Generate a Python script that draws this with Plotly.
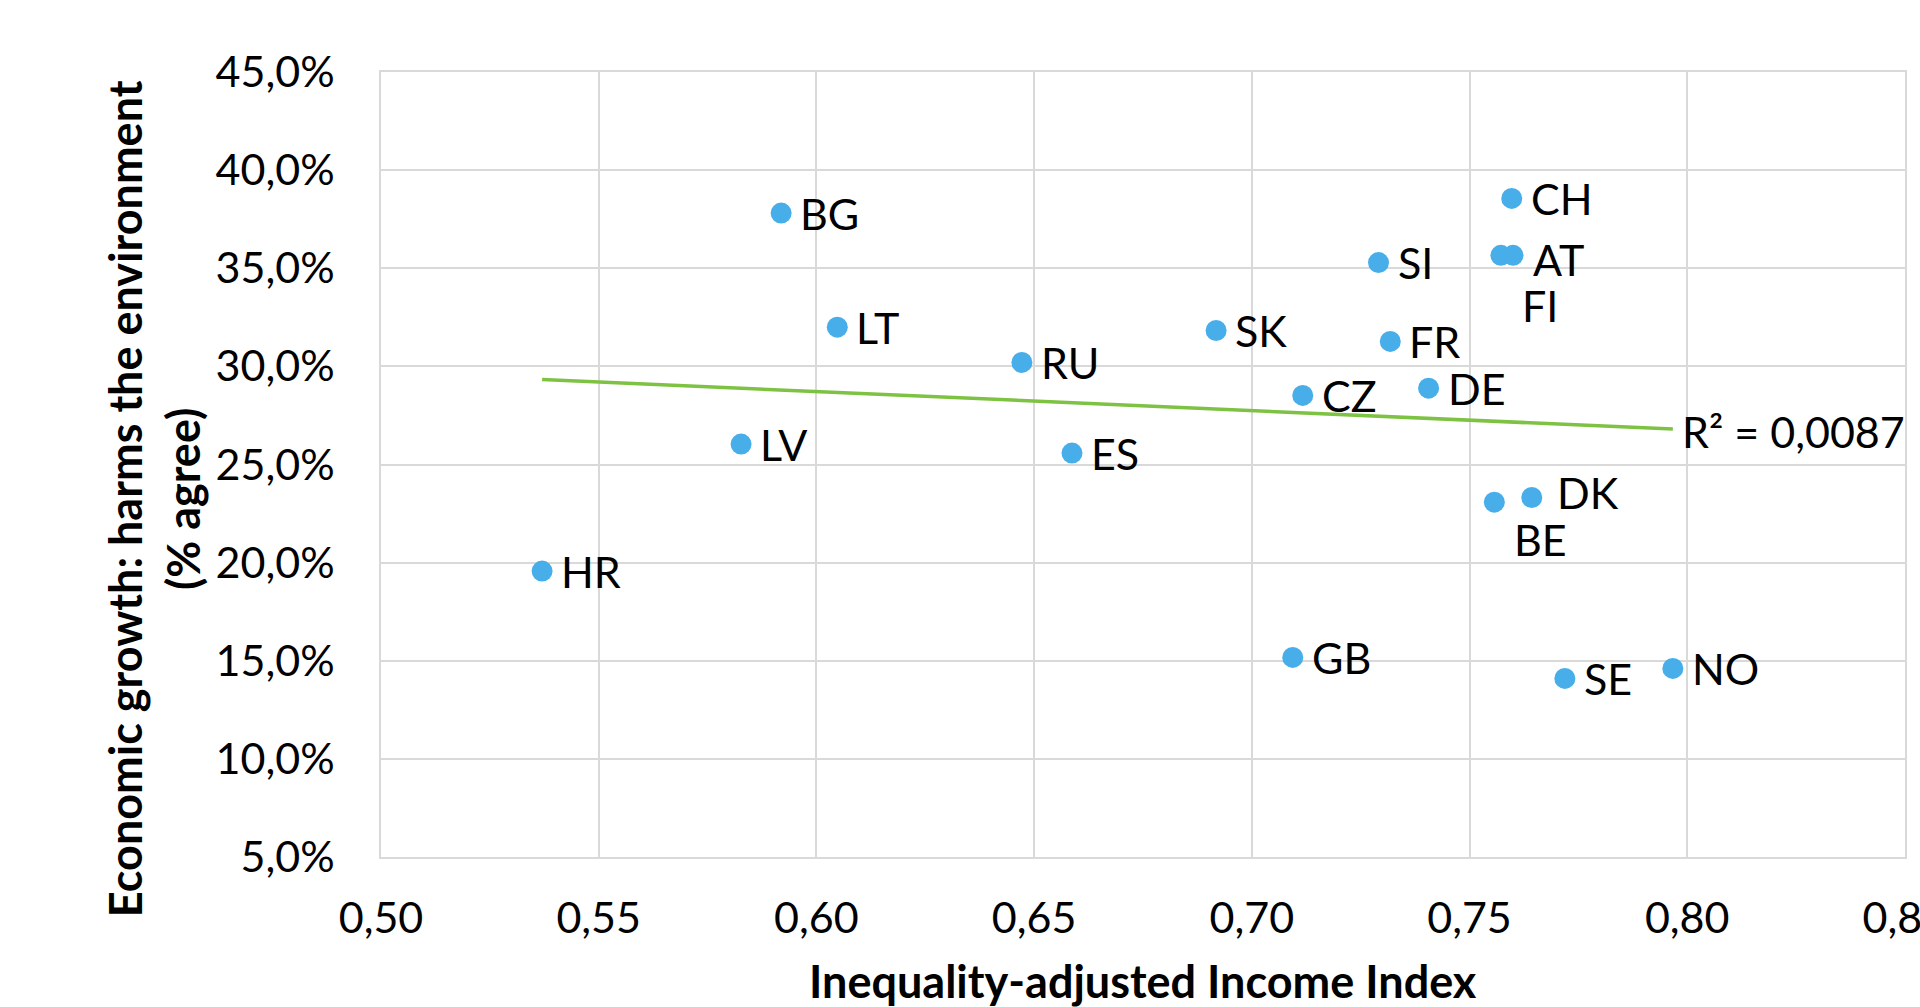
import numpy as np
import plotly.graph_objects as go

# ---- data ----
countries = ["HR", "LV", "BG", "LT", "RU", "ES", "SK", "GB", "CZ", "SI",
             "FR", "DE", "BE", "FI", "AT", "CH", "DK", "SE", "NO"]
income_index = [0.5370, 0.5827, 0.5919, 0.6048, 0.6472, 0.6587, 0.6918, 0.7094, 0.7117, 0.7291,
                0.7318, 0.7406, 0.7557, 0.7572, 0.7600, 0.7597, 0.7643, 0.7719, 0.7967]
harms_env_pct = [19.57, 26.04, 37.81, 32.00, 30.20, 25.58, 31.83, 15.17, 28.52, 35.29,
                 31.27, 28.89, 23.08, 35.66, 35.66, 38.56, 23.32, 14.10, 14.61]
r2_text = "R² = 0,0087"
y_ticks = [5, 10, 15, 20, 25, 30, 35, 40, 45]
y_tick_labels = ["5,0%", "10,0%", "15,0%", "20,0%", "25,0%", "30,0%", "35,0%", "40,0%", "45,0%"]
x_ticks = [0.50, 0.55, 0.60, 0.65, 0.70, 0.75, 0.80, 0.85]
x_tick_labels = ["0,50", "0,55", "0,60", "0,65", "0,70", "0,75", "0,80", "0,85"]

# ---- styling ----
FONT = "Lato, 'Open Sans', sans-serif"
FS = 43
FS_TITLE = 45
DOT = "#47AEEA"
TREND = "#7DC242"
GRID = "#D9D9D9"

# label offsets (pixels) for labels not placed to the right of their point
label_shift = {"FI": (19, -50), "BE": (18, -37), "AT": (18, -4), "DK": (23, 5)}
default_shift = (17, 0)

# linear trend line
xs = np.array(income_index)
ys = np.array(harms_env_pct)
slope, intercept = np.polyfit(xs, ys, 1)
tx = np.array([xs.min(), xs.max()])
ty = slope * tx + intercept

fig = go.Figure()
fig.add_trace(go.Scatter(x=tx, y=ty, mode="lines",
                         line=dict(color=TREND, width=3.5), hoverinfo="skip",
                         showlegend=False))
fig.add_trace(go.Scatter(x=income_index, y=harms_env_pct, mode="markers",
                         marker=dict(color=DOT, size=21, line=dict(width=0)),
                         text=countries, showlegend=False))

for c, xv, yv in zip(countries, income_index, harms_env_pct):
    dx, dy = label_shift.get(c, default_shift)
    fig.add_annotation(x=xv, y=yv, text=c, showarrow=False, xanchor="left",
                       yanchor="middle", xshift=dx, yshift=dy,
                       font=dict(family=FONT, size=FS, color="#000000"))

fig.add_annotation(x=tx[1], y=ty[1], text=r2_text, showarrow=False, xanchor="left",
                   yanchor="middle", xshift=7, yshift=-2,
                   font=dict(family=FONT, size=FS, color="#000000"))

# axis titles
fig.add_annotation(xref="paper", yref="paper", x=-0.149, y=0.457,
                   text="<b>Economic growth: harms the environment</b><br><b>(% agree)</b>",
                   textangle=-90, showarrow=False, xanchor="center", yanchor="middle",
                   font=dict(family=FONT, size=FS_TITLE, color="#000000"))
fig.add_annotation(xref="paper", yref="paper", x=0.5, y=-0.158,
                   text="<b>Inequality-adjusted Income Index</b>",
                   showarrow=False, xanchor="center", yanchor="middle",
                   font=dict(family=FONT, size=FS_TITLE, color="#000000"))

fig.update_layout(
    width=1920, height=1007, autosize=False,
    margin=dict(l=381, r=15, t=72, b=150, pad=0),
    paper_bgcolor="white", plot_bgcolor="white",
    font=dict(family=FONT, size=FS, color="#000000"),
    showlegend=False,
)
fig.update_xaxes(range=[0.50, 0.85002], tickvals=x_ticks, ticktext=x_tick_labels,
                 showgrid=True, gridcolor=GRID, gridwidth=1.5,
                 showline=True, linecolor=GRID, linewidth=1.5, mirror=True,
                 zeroline=False, ticks="", ticklabelstandoff=23,
                 ticklabeloverflow="allow", automargin=False,
                 tickfont=dict(family=FONT, size=FS, color="#000000"))
fig.update_yaxes(range=[5, 45], tickvals=y_ticks, ticktext=y_tick_labels,
                 showgrid=True, gridcolor=GRID, gridwidth=1.5,
                 showline=True, linecolor=GRID, linewidth=1.5, mirror=True,
                 zeroline=False, ticks="", ticklabelstandoff=36, automargin=False,
                 tickfont=dict(family=FONT, size=FS, color="#000000"))

fig.write_html("out.html")
